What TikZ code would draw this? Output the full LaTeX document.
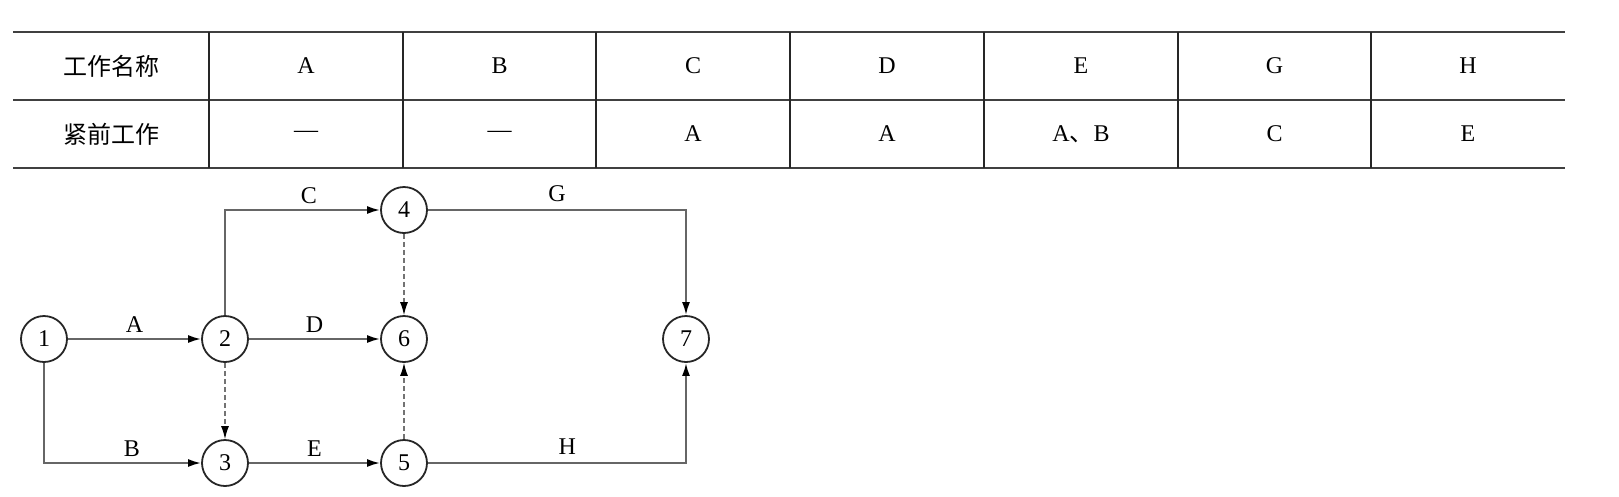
\documentclass[tikz,border=0pt]{standalone}
\usepackage{fontspec}
\setmainfont{Liberation Serif}
\newfontfamily\cjk{Noto Sans CJK SC}
\usetikzlibrary{arrows.meta}
\begin{document}
\begin{tikzpicture}[x=1pt,y=-1pt,
  ev/.style={circle,draw=black!85,line width=1.8pt,minimum size=46pt,inner sep=0pt,font=\fontsize{24}{24}\selectfont},
  act/.style={draw=black!60,line width=2pt,-{Latex[length=13pt,width=8pt,color=black]}},
  dum/.style={draw=black!55,line width=1.3pt,dash pattern=on 5pt off 3pt,-{Latex[length=13pt,width=8pt,color=black]}},
  lab/.style={anchor=base,yshift=7pt,inner sep=0pt,font=\fontsize{24}{24}\selectfont},
  cell/.style={inner sep=0pt,font=\fontsize{24}{24}\selectfont},
  cjkcell/.style={inner sep=0pt,font=\cjk\fontsize{24}{24}\selectfont},
  tabrule/.style={line width=2.5pt,draw=black!75}
]
\useasboundingbox (0,0) rectangle (1619,496);
% table rules
\draw[tabrule] (13,32) -- (1565,32);
\draw[tabrule] (13,100) -- (1565,100);
\draw[tabrule] (13,168) -- (1565,168);
\foreach \x in {209,403,596,790,984,1178,1371}
  \draw[tabrule,draw=black!85] (\x,32) -- (\x,168);
% table texts
\node[cjkcell] (h0) at (111,66) {工作名称};
\node[cjkcell] (p0) at (111,134) {紧前工作};
\node[cell] (h1) at (306,66) {A};
\node[cell] (h2) at (499.5,66) {B};
\node[cell] (h3) at (693,66) {C};
\node[cell] (h4) at (887,66) {D};
\node[cell] (h5) at (1081,66) {E};
\node[cell] (h6) at (1274.5,66) {G};
\node[cell] (h7) at (1468,66) {H};
\node[cell] (p1) at (306,134) {—};
\node[cell] (p2) at (499.5,134) {—};
\node[cell] (p3) at (693,134) {A};
\node[cell] (p4) at (887,134) {A};
\node[cell] (p5) at (1081,134) {A{\cjk 、}B};
\node[cell] (p6) at (1274.5,134) {C};
\node[cell] (p7) at (1468,134) {E};
% network nodes
\node[ev] (n1) at (44,339) {1};
\node[ev] (n2) at (225,339) {2};
\node[ev] (n3) at (225,463) {3};
\node[ev] (n4) at (404,210) {4};
\node[ev] (n6) at (404,339) {6};
\node[ev] (n5) at (404,463) {5};
\node[ev] (n7) at (686,339) {7};
% activities
\draw[act] (n1) -- node[lab]{A} (n2);
\draw[act] (n1) |- node[lab,pos=0.78]{B} (n3);
\draw[act] (n2) |- node[lab,pos=0.77]{C} (n4);
\draw[act] (n2) -- node[lab]{D} (n6);
\draw[act] (n3) -- node[lab]{E} (n5);
\draw[act] (n4) -| node[lab,pos=0.25,yshift=2pt]{G} (n7);
\draw[act] (n5) -| node[lab,pos=0.27,yshift=2pt]{H} (n7);
% dummies
\draw[dum] (n2) -- (n3);
\draw[dum] (n4) -- (n6);
\draw[dum] (n5) -- (n6);
\end{tikzpicture}
\end{document}
